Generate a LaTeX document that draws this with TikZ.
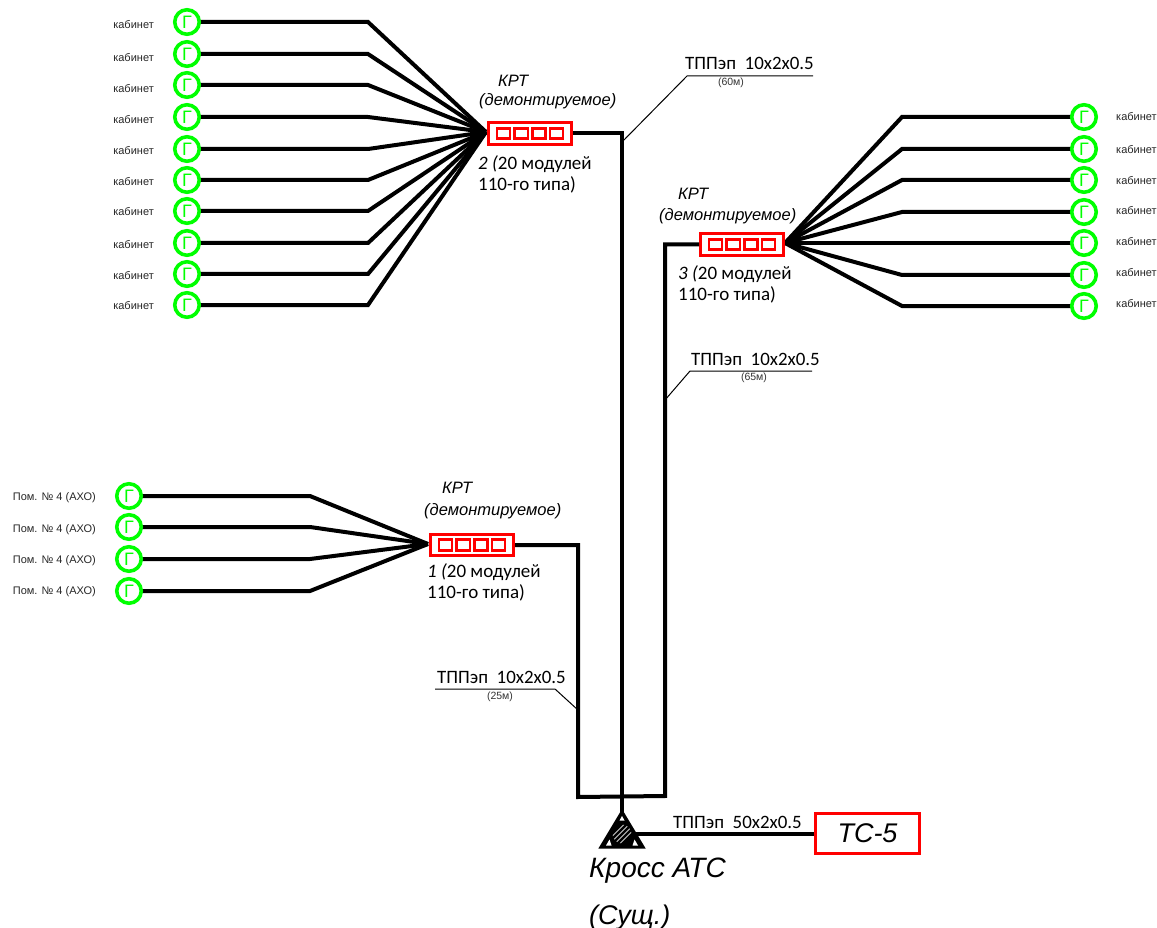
\documentclass[tikz,border=0pt]{standalone}
\usepackage{fontspec}
\setmainfont{Liberation Sans}
\newfontfamily\calfont{Carlito}
\tikzset{
  x=1pt,y=-1pt,
  wire/.style={line width=4pt,black,line join=miter},
  feed/.style={line width=4pt,black},
  lead/.style={line width=1pt,black},
  phone/.style={circle,draw=green,line width=3.6pt,fill=white,minimum size=24.5pt,inner sep=0pt,text=green,font=\fontsize{18}{18}\selectfont},
  tag/.style={font=\fontsize{11}{12}\selectfont,text=black!85,inner sep=0pt},
  redbox/.style={draw=red,line width=3pt,fill=white,inner sep=0pt},
  cell/.style={draw=red,line width=2.6pt,fill=white,minimum width=13.2pt,minimum height=10.5pt,inner sep=0pt},
  ital/.style={font=\fontsize{16.5}{19}\selectfont\itshape,inner sep=0pt,align=left},
  body/.style={font=\calfont\fontsize{19}{21}\selectfont,inner sep=0pt,align=left},
  cable/.style={font=\calfont\fontsize{18.9}{20}\selectfont,inner sep=0pt},
  len/.style={font=\fontsize{10.5}{11}\selectfont,inner sep=0pt,text=black!80},
}
\begin{document}
\begin{tikzpicture}
\useasboundingbox (0,0) rectangle (1157,928);
% hubs
\coordinate (hubB) at (486,132);
\coordinate (hubC) at (785,243);
\coordinate (hubA) at (428,544);
% group 2 (top left)
\foreach \i/\y/\ly in {1/22/25,2/54/58,3/85/89,4/117/120,5/149/151,6/180/182,7/211/212,8/243/245,9/274/276,10/305/306}{
  \coordinate (bb\i) at (368,\y);
  \draw[wire] (187,\y) -- (bb\i) -- (hubB);
  \node[phone] (pb\i) at (187,\y) {Г};
  \node[tag,anchor=east] (lb\i) at (154,\ly) {кабинет};
}
% group 3 (right)
\foreach \i/\y/\ly in {1/117/117,2/149/150,3/180/181,4/212/211,5/243/242,6/275/273,7/306/304}{
  \coordinate (bc\i) at (902,\y);
  \draw[wire] (1084,\y) -- (bc\i) -- (hubC);
  \node[phone] (pc\i) at (1084,\y) {Г};
  \node[tag,anchor=west] (lc\i) at (1116,\ly) {кабинет};
}
% group 1 (lower left)
\foreach \i/\y/\ly in {1/496/497.5,2/527/529.5,3/559/560.5,4/591/591.5}{
  \coordinate (ba\i) at (310,\y);
  \draw[wire] (129,\y) -- (ba\i) -- (hubA);
  \node[phone] (pa\i) at (129,\y) {Г};
  \node[tag,anchor=east] (la\i) at (96,\ly) {Пом. № 4 (АХО)};
}
% KRT boxes
\foreach \n/\cx/\cy in {B/530/133.5,C/742/244.5,A/472/545}{
  \node[redbox,minimum width=83pt,minimum height=21.5pt] (box\n) at (\cx,\cy) {};
  \foreach \k/\dx in {1/-26.5,2/-8.8,3/8.8,4/26.5}{
    \node[cell] (c\n\k) at (\cx+\dx,\cy) {};
  }
}
% cross
\coordinate (apex) at (622,812);
\coordinate (tl) at (601,847);
\coordinate (tr) at (643,847);
% feeds
\draw[feed] (boxB.east) -- (622,133.5) -- (apex);
\draw[feed] (boxC.west) -- (665,244.5) -- (665,796) -- (578,797) -- (578,545) -- (boxA.east);
\draw[line width=4pt,black] (630,834) -- (815,834);
\draw[line width=3pt,black,line join=miter] (apex) -- (tl) -- (tr) -- cycle;
\fill[black] (apex) -- (tl) -- (tr) -- cycle;
\fill[white] (606,845.5) -- (609.5,839.5) -- (611.5,845.5) -- cycle;
\fill[white] (638,845.5) -- (634.5,839.5) -- (632.5,845.5) -- cycle;
\fill[white] (622,816) -- (619.5,820.5) -- (624.5,820.5) -- cycle;
\begin{scope}
  \clip (622,834) circle (9.5);
  \foreach \d in {-7.5,-2.5,2.5,7.5}{
    \draw[white!80!black,line width=1pt] (622+\d-11,834+11) -- (622+\d+11,834-11);
  }
\end{scope}
% TC-5
\node[draw=red,line width=2.4pt,fill=white,minimum width=104pt,minimum height=40pt,inner sep=0pt,font=\fontsize{27}{30}\selectfont\itshape] (tc) at (867.5,833.5) {ТС-5};
% leaders
\draw[lead] (622,142) -- (687,76) -- (813,76);
\draw[lead] (665,400) -- (690,371) -- (812,371);
\draw[lead] (578,710) -- (555,689) -- (435,689);
% cable labels
\node[cable,anchor=base west] (t1) at (685,70) {ТППэп\ \ 10х2х0.5};
\node[len] (l1) at (731,82.5) {(60м)};
\node[cable,anchor=base west] (t2) at (691,365) {ТППэп\ \ 10х2х0.5};
\node[len] (l2) at (754,377.5) {(65м)};
\node[cable,anchor=base west] (t3) at (437,683) {ТППэп\ \ 10х2х0.5};
\node[len] (l3) at (500,697) {(25м)};
\node[cable,anchor=base west] (t4) at (673,828) {ТППэп\ \ 50х2х0.5};
% KRT labels
\node[ital,anchor=base west] (k2a) at (498,87) {КРТ};
\node[ital,anchor=base west] (k2b) at (479,106) {(демонтируемое)};
\node[ital,anchor=base west] (k3a) at (678,200) {КРТ};
\node[ital,anchor=base west] (k3b) at (659,220.5) {(демонтируемое)};
\node[ital,anchor=base west] (k1a) at (442,493) {КРТ};
\node[ital,anchor=base west] (k1b) at (424,515) {(демонтируемое)};
\node[body,anchor=base west] (b2) at (478,191) {\textit{2 (}20 модулей\\110-го типа)};
\node[body,anchor=base west] (b3) at (678,301) {\textit{3 (}20 модулей\\110-го типа)};
\node[body,anchor=base west] (b1) at (427,598) {\textit{1 (}20 модулей\\110-го типа)};
% cross label
\node[font=\fontsize{28}{28}\selectfont\itshape,inner sep=0pt,anchor=base west] (k1) at (589,877) {Кросс АТС};
\node[font=\fontsize{27}{28}\selectfont\itshape,inner sep=0pt,anchor=base west] (k2) at (589,924) {(Сущ.)};
\end{tikzpicture}
\end{document}
